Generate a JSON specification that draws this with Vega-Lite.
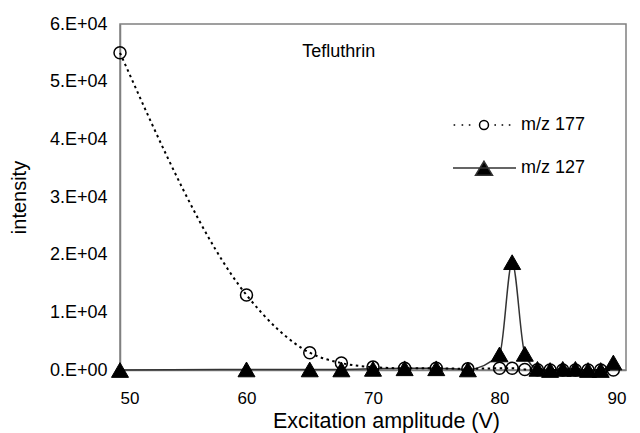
{
  "$schema": "https://vega.github.io/schema/vega-lite/v6.json",
  "width": 506,
  "height": 346,
  "autosize": {"type": "none"},
  "padding": {"left": 120, "top": 24, "right": 14, "bottom": 63},
  "background": "white",
  "config": {
    "font": "Liberation Sans",
    "view": {"stroke": "#808080", "strokeWidth": 1.5},
    "axis": {"grid": false, "ticks": false, "tickSize": 0, "domainColor": "#808080", "domainWidth": 1.5, "labelColor": "#000", "titleColor": "#000", "titleFontWeight": "normal", "labelFont": "Liberation Sans", "titleFont": "Liberation Sans"},
    "legend": {"labelFont": "Liberation Sans", "labelFontSize": 18, "labelColor": "#000", "padding": 0, "symbolSize": 1024, "labelOffset": 20, "symbolStrokeWidth": 1.5, "symbolOpacity": 1}
  },
  "data": {
    "values": [
      {"voltage": 50, "intensity": 55000, "series": "m/z 177"},
      {"voltage": 60, "intensity": 13000, "series": "m/z 177"},
      {"voltage": 65, "intensity": 3000, "series": "m/z 177"},
      {"voltage": 67.5, "intensity": 1200, "series": "m/z 177"},
      {"voltage": 70, "intensity": 500, "series": "m/z 177"},
      {"voltage": 72.5, "intensity": 300, "series": "m/z 177"},
      {"voltage": 75, "intensity": 300, "series": "m/z 177"},
      {"voltage": 77.5, "intensity": 200, "series": "m/z 177"},
      {"voltage": 80, "intensity": 300, "series": "m/z 177"},
      {"voltage": 81, "intensity": 300, "series": "m/z 177"},
      {"voltage": 82, "intensity": 100, "series": "m/z 177"},
      {"voltage": 83, "intensity": 50, "series": "m/z 177"},
      {"voltage": 84, "intensity": 0, "series": "m/z 177"},
      {"voltage": 85, "intensity": 0, "series": "m/z 177"},
      {"voltage": 86, "intensity": 0, "series": "m/z 177"},
      {"voltage": 87, "intensity": 0, "series": "m/z 177"},
      {"voltage": 88, "intensity": 0, "series": "m/z 177"},
      {"voltage": 89, "intensity": 0, "series": "m/z 177"},
      {"voltage": 50, "intensity": 0, "series": "m/z 127"},
      {"voltage": 60, "intensity": 100, "series": "m/z 127"},
      {"voltage": 65, "intensity": 100, "series": "m/z 127"},
      {"voltage": 67.5, "intensity": 100, "series": "m/z 127"},
      {"voltage": 70, "intensity": 200, "series": "m/z 127"},
      {"voltage": 72.5, "intensity": 300, "series": "m/z 127"},
      {"voltage": 75, "intensity": 300, "series": "m/z 127"},
      {"voltage": 77.5, "intensity": 100, "series": "m/z 127"},
      {"voltage": 80, "intensity": 2700, "series": "m/z 127"},
      {"voltage": 81, "intensity": 18700, "series": "m/z 127"},
      {"voltage": 82, "intensity": 2800, "series": "m/z 127"},
      {"voltage": 83, "intensity": 200, "series": "m/z 127"},
      {"voltage": 84, "intensity": 0, "series": "m/z 127"},
      {"voltage": 85, "intensity": 200, "series": "m/z 127"},
      {"voltage": 86, "intensity": 200, "series": "m/z 127"},
      {"voltage": 87, "intensity": 0, "series": "m/z 127"},
      {"voltage": 88, "intensity": 0, "series": "m/z 127"},
      {"voltage": 89, "intensity": 1300, "series": "m/z 127"}
    ]
  },
  "layer": [
    {
      "encoding": {
        "x": {
          "field": "voltage", "type": "quantitative",
          "scale": {"domain": [50, 90], "nice": false, "zero": false},
          "axis": {"values": [50, 60, 70, 80, 90], "labelFontSize": 17, "labelPadding": 20, "title": "Excitation amplitude (V)", "titleFontSize": 21.5, "titlePadding": 4, "titleX": 266}
        },
        "y": {
          "field": "intensity", "type": "quantitative",
          "scale": {"domain": [0, 60000], "nice": false},
          "axis": {"values": [0, 10000, 20000, 30000, 40000, 50000, 60000], "labelExpr": "datum.value == 0 ? '0.E+00' : format(datum.value / 10000, 'd') + '.E+04'", "labelFontSize": 18, "labelPadding": 13, "title": "intensity", "titleFontSize": 20, "titlePadding": 20}
        }
      },
      "layer": [
        {
          "transform": [{"filter": "datum.series === 'm/z 127'"}],
          "mark": {"type": "line", "interpolate": "monotone", "strokeWidth": 1.5},
          "encoding": {
            "stroke": {
              "datum": "m/z 127", "type": "nominal",
              "scale": {"range": ["#333333"]},
              "legend": {
                "orient": "none", "legendX": 347, "legendY": 127, "title": null,
                "symbolType": "M-1.94,0H2M0,-0.42L0.53,0.45L-0.53,0.45Z",
                "symbolFillColor": "#000000", "symbolStrokeColor": "#000000"
              }
            }
          }
        },
        {
          "transform": [{"filter": "datum.series === 'm/z 177'"}],
          "mark": {"type": "line", "interpolate": "monotone", "strokeWidth": 2, "strokeDash": [2.5, 3.5]},
          "encoding": {
            "color": {
              "datum": "m/z 177", "type": "nominal",
              "scale": {"range": ["#000000"]},
              "legend": {
                "orient": "none", "legendX": 347, "legendY": 84, "title": null,
                "symbolType": "M-1.9,0h0.1M-1.4,0h0.1M-0.95,0h0.1M0.65,0h0.1M1.1,0h0.1M1.55,0h0.1M0.28,0A0.28,0.28,0,1,1,-0.28,0A0.28,0.28,0,1,1,0.28,0Z",
                "symbolFillColor": "#ffffff", "symbolStrokeColor": "#000000"
              }
            }
          }
        },
        {
          "transform": [{"filter": "datum.series === 'm/z 177'"}],
          "mark": {"type": "point", "shape": "circle", "size": 144, "filled": false, "stroke": "#000000", "strokeWidth": 1.5, "opacity": 1}
        },
        {
          "transform": [{"filter": "datum.series === 'm/z 127'"}],
          "mark": {"type": "point", "shape": "triangle-up", "size": 289, "filled": true, "fill": "#000000", "stroke": "#000000", "strokeWidth": 1, "opacity": 1}
        }
      ]
    },
    {
      "data": {"values": [{"label": "Tefluthrin"}]},
      "mark": {"type": "text", "align": "left", "baseline": "middle", "fontSize": 18, "font": "Liberation Sans", "color": "#000"},
      "encoding": {
        "x": {"datum": 64.4, "type": "quantitative"},
        "y": {"datum": 55150, "type": "quantitative"},
        "text": {"field": "label", "type": "nominal"}
      }
    }
  ]
}
